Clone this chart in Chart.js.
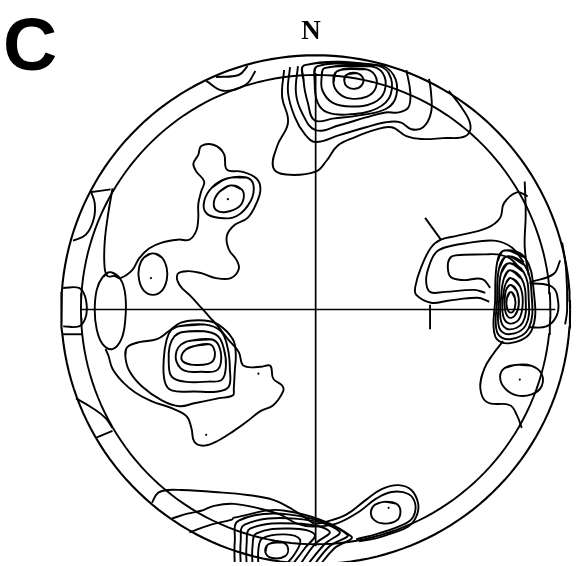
<!DOCTYPE html>
<html>
<head>
<meta charset="utf-8">
<script src="https://cdn.jsdelivr.net/npm/chart.js@4/dist/chart.umd.min.js"></script>
<style>
  html, body { margin: 0; padding: 0; background: #fff; }
  #wrap { position: relative; width: 581px; height: 566px; overflow: hidden; }
  #c { position: absolute; left: 0; top: 0; }
  .lbl { position: absolute; color: #000; white-space: nowrap; }
  #panel { left: 3px; top: 7px; font: bold 75px "Liberation Sans", Arial, sans-serif; line-height: 75px; }
  #north { left: 291px; width: 40px; text-align: center; top: 17px; font: bold 27px "Liberation Serif", "Times New Roman", serif; line-height: 27px; }
</style>
</head>
<body>
<div id="wrap">
  <canvas id="c" width="581" height="566"></canvas>
  <div class="lbl" id="panel">C</div>
  <div class="lbl" id="north">N</div>
</div>
<script>
// ---- stereonet frame (equal-area net, units: primitive radius = 258) ----
const PRIMITIVE_R = 258;
const INNER_R = 238;
const axisH = [[-238, 0], [243, 0]];
const axisV = [[0, 240], [0, -240]];

// ---- contour lines: [x, y] in net units ----
// North maximum (closed loops, innermost first)
const north0 = [[31,238],[41,240],[48,235],[47,228],[40,224],[32,226],[29,232]];
const north1 = [[22,242],[49,244],[60,238],[61,225],[52,216],[36,214],[24,219],[18,230]];
const north2 = [[9,245],[54,247],[68,240],[70,222],[59,210],[36,206],[17,210],[7,222],[6,235]];
const north3 = [[2,247],[59,248],[74,240],[76,218],[62,204],[34,198],[12,200],[2,210],[-1,230]];
const north4 = [[-11,248],[64,248],[79,238],[82,218],[72,204],[44,197],[19,194],[-1,192],[-8,210],[-12,230]];
// North maximum (open contours reaching the primitive)
const north5 = [[-18,247],[-20,220],[-14,200],[0,182],[24,187],[51,195],[71,200],[84,200],[94,205],[96,220],[92,243]];
const north6 = [[-26,246],[-28,220],[-21,195],[-11,178],[0,170],[24,177],[51,185],[71,190],[86,190],[97,183],[109,185],[117,200],[117,220],[115,234]];
const north7 = [[-32,243],[-34,216],[-28,190],[-39,166],[-43,144],[-30,137],[0,140],[11,151],[22,166],[40,175],[59,182],[77,185],[92,176],[107,173],[129,174],[152,176],[157,187],[148,205],[135,222]];

// Western half: large low-density contour
const westOuter = [[-206,123],[-211,93],[-214,67],[-214,43],[-211,34],[-204,34],[-198,32],[-186,40],[-179,52],[-169,62],[-156,68],[-139,71],[-128,71],[-121,80],[-119,93],[-119,107],[-116,120],[-113,130],[-121,140],[-124,148],[-119,157],[-116,166],[-103,167],[-93,158],[-90,142],[-75,140],[-60,133],[-56,122],[-60,108],[-69,93],[-82,86],[-90,75],[-88,61],[-80,50],[-78,41],[-86,32],[-101,32],[-116,37],[-130,39],[-140,36],[-138,25],[-126,13],[-116,2],[-108,-7],[-99,-17],[-89,-30],[-78,-43],[-73,-57],[-56,-58],[-46,-57],[-43,-70],[-34,-77],[-33,-83],[-43,-97],[-56,-103],[-69,-113],[-83,-123],[-99,-133],[-113,-138],[-123,-134],[-126,-120],[-131,-108],[-146,-100],[-166,-93],[-183,-84],[-196,-73],[-206,-60],[-210,-47],[-213,-40]];
// NW maximum
const nwInner = [[-86,126],[-75,122],[-73,113],[-78,104],[-91,99],[-101,101],[-103,110],[-97,120]];
const nwOuter = [[-90,133],[-70,134],[-63,126],[-66,110],[-80,95],[-97,93],[-111,98],[-113,110],[-105,124]];
// W small closed contours
const wSmall = [[-165,57],[-156,53],[-151,42],[-151,30],[-156,19],[-165,15],[-174,19],[-179,30],[-179,43],[-174,53]];
const wEllipse = [[-208,38],[-198,31],[-193,15],[-193,-10],[-197,-30],[-206,-40],[-216,-35],[-222,-20],[-224,-1],[-222,20],[-216,33]];
// SW maximum
const sw0 = [[-123,-37],[-108,-35],[-103,-40],[-103,-50],[-109,-55],[-124,-56],[-134,-53],[-136,-47],[-131,-40]];
const sw1 = [[-129,-32],[-106,-30],[-98,-37],[-96,-53],[-101,-62],[-116,-63],[-133,-62],[-141,-53],[-141,-42],[-136,-35]];
const sw2 = [[-136,-23],[-113,-22],[-99,-27],[-93,-40],[-91,-57],[-95,-71],[-109,-73],[-133,-73],[-146,-68],[-149,-53],[-148,-37],[-143,-27]];
const sw3 = [[-139,-17],[-113,-15],[-96,-22],[-89,-40],[-87,-60],[-88,-78],[-99,-83],[-123,-83],[-146,-82],[-153,-73],[-154,-50],[-151,-30],[-146,-20]];
const sw4 = [[-191,-38],[-179,-33],[-161,-30],[-149,-22],[-136,-13],[-113,-11],[-99,-15],[-84,-30],[-81,-45],[-82,-62],[-83,-80],[-84,-87],[-99,-90],[-123,-95],[-138,-98],[-156,-92],[-176,-78],[-189,-62],[-193,-47]];

// East maximum
const eastTick = [[111,93],[127,71]];
const eastStem = [[116,5],[116,-20]];
const east1 = [[215,115],[204,119],[191,108],[187,93],[174,83],[144,75],[127,71],[117,63],[107,43],[101,23],[102,15],[117,7],[134,9],[164,12],[176,8]];
const east2 = [[172,17],[161,20],[131,18],[116,18],[112,30],[116,47],[122,58],[131,63],[151,67],[181,70],[199,63],[211,48]];
const east3 = [[177,22],[169,31],[149,30],[137,33],[134,43],[136,52],[142,55],[171,56],[184,56],[197,52],[206,43]];
const eRing0 = [[198,18],[202,12],[202,2],[198,-3],[194,2],[194,12]];
const eRing1 = [[198,25],[204,19],[206,5],[202,-6],[196,-8],[192,0],[192,15],[194,22]];
const eRing2 = [[198,32],[207,24],[210,7],[206,-10],[196,-14],[190,-6],[190,13],[193,27]];
const eRing3 = [[197,40],[209,31],[213,10],[210,-13],[196,-20],[188,-12],[188,12],[191,32]];
const eRing4 = [[196,47],[211,38],[216,12],[213,-16],[196,-25],[186,-18],[186,10],[188,37]];
const eRing5 = [[194,54],[212,45],[219,15],[216,-19],[197,-30],[184,-23],[184,10],[186,42]];
const eRing6 = [[191,60],[212,53],[221,20],[219,-21],[197,-34],[182,-27],[182,10],[184,48]];
const eastLow = [[190,-32],[180,-45],[171,-60],[167,-80],[174,-94],[197,-97],[204,-107],[209,-120]];
const eastBump = [[217,27],[240,23],[246,7],[244,-7],[234,-17],[216,-18]];
const eastUp = [[212,130],[213,97],[212,63],[216,35]];
const seSmall = [[204,-56],[219,-57],[229,-65],[229,-78],[219,-86],[204,-87],[192,-80],[187,-68],[192,-59]];

// South maximum
const southOuter = [[-166,-196],[-160,-186],[-150,-183],[-136,-183],[-103,-185],[-69,-188],[-43,-193],[-23,-203],[-9,-212],[-1,-217],[11,-215],[31,-208],[51,-193],[67,-182],[84,-178],[97,-183],[104,-197],[102,-210],[94,-220],[77,-227],[61,-232],[44,-235]];
const southInner = [[-146,-212],[-130,-207],[-116,-204],[-103,-199],[-83,-197],[-56,-202],[-36,-208],[-19,-217],[-3,-220],[21,-217],[44,-205],[61,-192],[77,-185],[94,-187],[101,-197],[99,-210],[91,-217],[64,-227],[41,-233]];
const sSmall = [[69,-195],[82,-197],[86,-205],[82,-214],[69,-217],[59,-213],[56,-205],[60,-198]];
const s0 = [[-48,-238],[-34,-236],[-28,-242],[-31,-250],[-44,-252],[-51,-246]];
const s1 = [[-58,-262],[-58,-243],[-54,-232],[-31,-228],[-16,-233],[-20,-246],[-33,-262]];
const s2 = [[-64,-262],[-64,-240],[-60,-227],[-26,-222],[-1,-228],[-11,-242],[-26,-262]];
const s3 = [[-70,-262],[-70,-238],[-66,-222],[-21,-217],[14,-225],[-1,-238],[-18,-262]];
const s4 = [[-76,-262],[-76,-235],[-72,-218],[-21,-212],[24,-225],[9,-238],[-11,-262]];
const s5 = [[-82,-262],[-82,-235],[-78,-214],[-26,-208],[32,-228],[14,-240],[-4,-262]];
const s6 = [[-128,-226],[-106,-218],[-85,-213],[-83,-211],[-31,-204],[36,-230],[19,-242],[2,-262]];

// Contours inside the double primitive ring
const ringW = [[-256,22],[-240,22],[-234,14],[-232,0],[-234,-10],[-240,-17],[-256,-17]];
const ringW2 = [[-257,-25],[-237,-25]];
const ringNW = [[-246,70],[-233,76],[-225,92],[-224,108],[-228,120]];
const ringNW2 = [[-229,119],[-208,122]];
const ringSW1 = [[-243,-90],[-226,-100],[-213,-110],[-206,-120]];
const ringSW2 = [[-223,-130],[-206,-123]];
const ringN = [[-101,236],[-78,238],[-69,247]];
const ringN2 = [[-111,232],[-94,222],[-71,228],[-61,242]];
const ringE = [[250,68],[254,40],[255,0],[253,-15]];
const ringE2 = [[218,28],[241,36],[248,50]];

// density maxima markers
const dots = [[-89,112],[-167,32],[-58,-65],[-111,-127],[207,-71],[74,-201]];

// ---- build datasets ----
const pts = a => a.map(p => ({x: p[0], y: p[1]}));
const loop = a => pts([a[a.length - 1], ...a, a[0], a[1]]);
function circle(r) {
  const out = [];
  for (let d = 0; d <= 360; d += 2) {
    const t = d * Math.PI / 180;
    out.push({x: r * Math.cos(t), y: r * Math.sin(t)});
  }
  return out;
}
const LW = 1.9;
const ds = [];
function add(data, w, tension) {
  ds.push({data, showLine: true, borderColor: '#000', borderWidth: w || LW,
           pointRadius: 0, fill: false, tension: tension === undefined ? 0.4 : tension});
}
add(circle(PRIMITIVE_R), 2.1, 0);
add(circle(INNER_R), 1.9, 0);
add(pts(axisH), 1.5, 0);
add(pts(axisV), 1.7, 0);

[north0, north1, north2, north3, north4, nwInner, nwOuter, wSmall, wEllipse,
 sw0, sw1, sw2, sw3, eRing0, eRing1, eRing2, eRing3, eRing4, eRing5, eRing6,
 seSmall, sSmall, s0].forEach(a => add(loop(a)));
add(loop(sw4));
[north5, north6, north7, westOuter, east1, east2, east3, eastLow, eastBump, eastUp,
 southOuter, southInner, s1, s2, s3, s4, s5, s6,
 ringW, ringW2, ringNW, ringNW2, ringSW1, ringSW2, ringN, ringN2, ringE, ringE2].forEach(a => add(pts(a)));
add(pts(eastTick), LW, 0);
add(pts(eastStem), LW, 0);
ds.push({data: pts(dots), showLine: false, pointRadius: 1.1, pointBackgroundColor: '#000', pointBorderWidth: 0});

new Chart(document.getElementById('c'), {
  type: 'scatter',
  data: { datasets: ds },
  options: {
    responsive: false,
    animation: false,
    layout: { padding: 0 },
    plugins: { legend: { display: false }, tooltip: { enabled: false }, title: { display: false } },
    scales: {
      x: { type: 'linear', min: -316, max: 265, display: false },
      y: { type: 'linear', min: -256, max: 310, display: false }
    }
  }
});
</script>
</body>
</html>
